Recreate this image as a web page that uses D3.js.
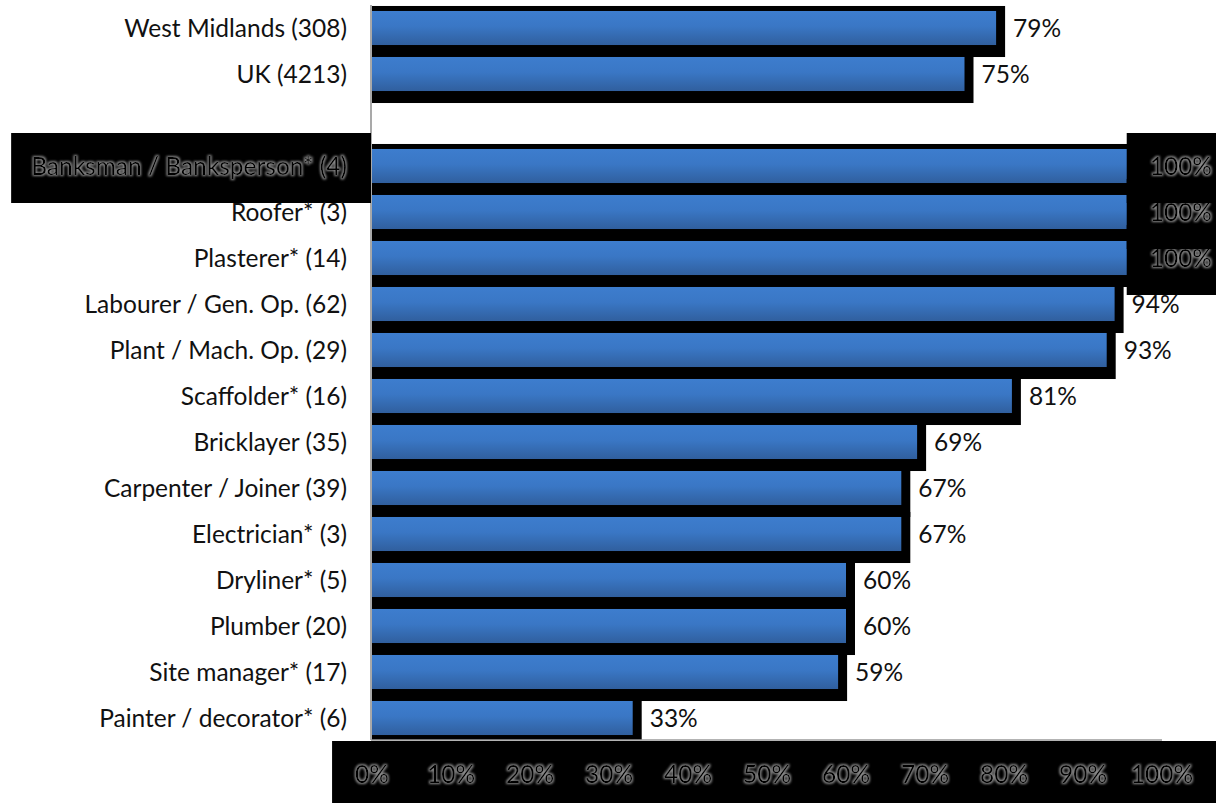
<!DOCTYPE html>
<html>
<head>
<meta charset="utf-8">
<script src="https://cdn.jsdelivr.net/npm/d3@7"></script>
<style>
  html, body { margin: 0; padding: 0; background: #fff; }
  svg { display: block; }
  text { font-family: Lato, "Noto Sans", sans-serif; }
</style>
</head>
<body>
<svg id="chart" width="1216" height="803"></svg>
<script>
// Share of respondents by occupation (sample size in brackets)
const categories = [
  "West Midlands (308)", "UK (4213)", "",
  "Banksman / Banksperson* (4)", "Roofer* (3)", "Plasterer* (14)",
  "Labourer / Gen. Op. (62)", "Plant / Mach. Op. (29)", "Scaffolder* (16)",
  "Bricklayer (35)", "Carpenter / Joiner (39)", "Electrician* (3)",
  "Dryliner* (5)", "Plumber (20)", "Site manager* (17)", "Painter / decorator* (6)"
];
const values = [79, 75, null, 100, 100, 100, 94, 93, 81, 69, 67, 67, 60, 60, 59, 33];
const xTicks = [0, 10, 20, 30, 40, 50, 60, 70, 80, 90, 100];
// labels drawn on a dark panel with a glow
const highlightedCategories = ["Banksman / Banksperson* (4)"];

const W = 1216, H = 803;
const plot = { left: 372, right: 1162, top: 5, bottom: 740 };
const fontSize = 24.5;

const svg = d3.select("#chart");
const defs = svg.append("defs");

const grad = defs.append("linearGradient")
  .attr("id", "barFill").attr("x1", 0).attr("y1", 0).attr("x2", 0).attr("y2", 1);
grad.append("stop").attr("offset", "0%").attr("stop-color", "#3d7dce");
grad.append("stop").attr("offset", "45%").attr("stop-color", "#3a77c5");
grad.append("stop").attr("offset", "100%").attr("stop-color", "#305f9e");

const glow = defs.append("filter").attr("id", "glow")
  .attr("x", "-20%").attr("y", "-40%").attr("width", "140%").attr("height", "180%");
glow.append("feMorphology").attr("in", "SourceAlpha").attr("operator", "dilate").attr("radius", 0.9).attr("result", "thick");
glow.append("feGaussianBlur").attr("in", "thick").attr("stdDeviation", 0.8).attr("result", "blur");
glow.append("feFlood").attr("flood-color", "#8a8a8a").attr("result", "col");
glow.append("feComposite").attr("in", "col").attr("in2", "blur").attr("operator", "in").attr("result", "halo");
const gm = glow.append("feMerge");
gm.append("feMergeNode").attr("in", "halo");
gm.append("feMergeNode").attr("in", "SourceGraphic");

defs.append("clipPath").attr("id", "plotClip").append("rect")
  .attr("x", plot.left - 1).attr("y", plot.top)
  .attr("width", W).attr("height", plot.bottom - plot.top);

const x = d3.scaleLinear().domain([0, 100]).range([plot.left, plot.right]);
const y = d3.scaleBand().domain(categories).range([plot.top, plot.bottom + 1])
  .paddingInner(0.26).paddingOuter(0.13);
const bw = y.bandwidth();
const cy = c => y(c) + bw / 2;

const rows = categories.map((c, i) => ({ c, v: values[i] })).filter(d => d.v != null);

// bars with offset black shadows
const barG = svg.append("g").attr("clip-path", "url(#plotClip)");
barG.selectAll("rect.shadow").data(rows).join("rect")
  .attr("class", "shadow")
  .attr("x", x(0))
  .attr("y", d => y(d.c) - 5)
  .attr("width", d => x(d.v) - x(0) + 9)
  .attr("height", bw + 17)
  .attr("fill", "#000");
barG.selectAll("rect.bar").data(rows).join("rect")
  .attr("class", "bar")
  .attr("x", x(0))
  .attr("y", d => y(d.c))
  .attr("width", d => x(d.v) - x(0))
  .attr("height", bw)
  .attr("fill", "url(#barFill)");

// axis lines
svg.append("line").attr("x1", plot.left - 1).attr("x2", plot.left - 1)
  .attr("y1", plot.top).attr("y2", plot.bottom)
  .attr("stroke", "#8c8c8c").attr("stroke-width", 1.5);
svg.append("line").attr("x1", plot.left - 1).attr("x2", plot.right)
  .attr("y1", plot.bottom).attr("y2", plot.bottom)
  .attr("stroke", "#9a9a9a").attr("stroke-width", 1.5);

// category axis
const yAxis = d3.axisLeft(y).tickSize(0).tickPadding(0);
const yg = svg.append("g").attr("transform", `translate(${plot.left - 25},0)`).call(yAxis);
yg.select(".domain").remove();
yg.selectAll(".tick text")
  .attr("font-size", fontSize).attr("fill", "#111")
  .attr("dy", "0.35em").attr("x", 0)
  .style("font-family", "Lato, 'Noto Sans', sans-serif");
yg.selectAll(".tick").each(function(c) {
  if (!highlightedCategories.includes(c)) return;
  const t = d3.select(this).select("text");
  t.attr("filter", "url(#glow)").attr("fill", "#000");
  const wdt = t.node().getComputedTextLength();
  d3.select(this).insert("rect", "text")
    .attr("x", -wdt - 20).attr("y", -33)
    .attr("width", wdt + 20 + 24).attr("height", 70)
    .attr("fill", "#000");
});

// value labels, drawn bottom to top
const labG = svg.append("g");
rows.slice().reverse().forEach(d => {
  const g = labG.append("g");
  const t = g.append("text")
    .attr("y", cy(d.c)).attr("dy", "0.35em")
    .attr("font-size", fontSize).attr("fill", "#111")
    .text(d.v + "%");
  const wdt = t.node().getComputedTextLength();
  let tx = x(d.v) + 17;
  const full = tx + wdt > W - 4;
  if (full) tx = W - 4 - wdt;
  t.attr("x", tx);
  if (full) {
    t.attr("filter", "url(#glow)").attr("fill", "#000");
    g.insert("rect", "text").attr("x", tx - 23).attr("y", cy(d.c) - 33)
      .attr("width", wdt + 46).attr("height", 70).attr("fill", "#000");
  } else {
    g.insert("rect", "text").attr("x", tx - 7).attr("y", cy(d.c) - 14)
      .attr("width", wdt + 14).attr("height", 30).attr("fill", "#fff");
  }
});

// value axis tick labels on a dark panel
const tickY = 774;
const tg = svg.append("g");
const tickTexts = xTicks.map(v => {
  return tg.append("text").attr("x", x(v)).attr("y", tickY).attr("dy", "0.35em")
    .attr("text-anchor", "middle").attr("font-size", fontSize).attr("fill", "#000")
    .attr("filter", "url(#glow)").text(d3.format("d")(v) + "%");
});
tickTexts.forEach((t, i) => {
  const wdt = t.node().getComputedTextLength();
  tg.insert("rect", "text").attr("x", x(xTicks[i]) - wdt / 2 - 23).attr("y", tickY - 33)
    .attr("width", wdt + 46).attr("height", 70).attr("fill", "#000");
});
</script>
</body>
</html>
